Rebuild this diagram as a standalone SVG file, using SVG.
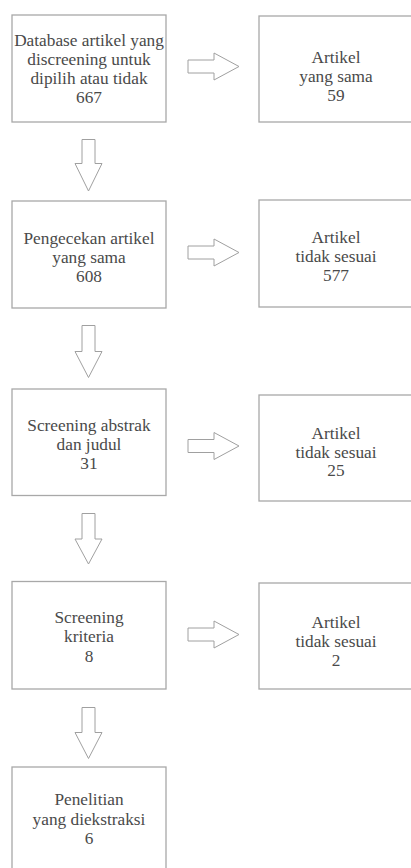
<svg xmlns="http://www.w3.org/2000/svg" width="411" height="868" viewBox="0 0 411 868">
<style>
.box{fill:#fff;stroke:#a8a8a8;stroke-width:1.3}
.arr{fill:#fff;stroke:#a0a0a0;stroke-width:1}
.t{font-family:'Liberation Serif','Times New Roman',serif;font-size:17.3px;fill:#4a4a4a;text-anchor:middle}
</style>
<rect width="411" height="868" fill="#fff"/>
<g id="connectors">
<polygon class="arr" points="188,60 214,60 214,53 239,66.5 214,80 214,73 188,73"/>
<polygon class="arr" points="188,246 214,246 214,239 239,252.5 214,266 214,259 188,259"/>
<polygon class="arr" points="188,439.5 214,439.5 214,432.5 239,446 214,459.5 214,452.5 188,452.5"/>
<polygon class="arr" points="188,628 214,628 214,621 239,634.5 214,648 214,641 188,641"/>
<polygon class="arr" points="82,139.5 95,139.5 95,163.5 102,163.5 88.5,191 75,163.5 82,163.5"/>
<polygon class="arr" points="82,325.5 95,325.5 95,351.5 102,351.5 88.5,377.5 75,351.5 82,351.5"/>
<polygon class="arr" points="82,513.5 95,513.5 95,539 102,539 88.5,564 75,539 82,539"/>
<polygon class="arr" points="82,707.5 95,707.5 95,732.5 102,732.5 88.5,758.5 75,732.5 82,732.5"/>
</g>
<g id="n1" class="t" font-family="Liberation Serif, serif">
<rect class="box" x="12" y="15" width="154" height="107"/>
<text x="89" y="45.5">Database artikel yang</text>
<text x="89" y="64.5">discreening untuk</text>
<text x="89" y="83.5">dipilih atau tidak</text>
<text x="89" y="102.5">667</text>
</g>
<g id="n2" class="t" font-family="Liberation Serif, serif">
<rect class="box" x="259" y="16" width="154" height="106"/>
<text x="336" y="62.5">Artikel</text>
<text x="336" y="81.5">yang sama</text>
<text x="336" y="100.5">59</text>
</g>
<g id="n3" class="t" font-family="Liberation Serif, serif">
<rect class="box" x="12" y="201" width="154" height="107"/>
<text x="89" y="243.5">Pengecekan artikel</text>
<text x="89" y="262.5">yang sama</text>
<text x="89" y="281.5">608</text>
</g>
<g id="n4" class="t" font-family="Liberation Serif, serif">
<rect class="box" x="259" y="200" width="154" height="107"/>
<text x="336" y="242.5">Artikel</text>
<text x="336" y="261.5">tidak sesuai</text>
<text x="336" y="280.5">577</text>
</g>
<g id="n5" class="t" font-family="Liberation Serif, serif">
<rect class="box" x="12" y="389" width="154" height="106.5"/>
<text x="89" y="430.5">Screening abstrak</text>
<text x="89" y="449.5">dan judul</text>
<text x="89" y="468.5">31</text>
</g>
<g id="n6" class="t" font-family="Liberation Serif, serif">
<rect class="box" x="259" y="395" width="154" height="106"/>
<text x="336" y="439">Artikel</text>
<text x="336" y="457.5">tidak sesuai</text>
<text x="336" y="476">25</text>
</g>
<g id="n7" class="t" font-family="Liberation Serif, serif">
<rect class="box" x="12" y="581.5" width="154" height="107.5"/>
<text x="89" y="623">Screening</text>
<text x="89" y="642">kriteria</text>
<text x="89" y="661.5">8</text>
</g>
<g id="n8" class="t" font-family="Liberation Serif, serif">
<rect class="box" x="259" y="583" width="154" height="106"/>
<text x="336" y="628">Artikel</text>
<text x="336" y="647">tidak sesuai</text>
<text x="336" y="666">2</text>
</g>
<g id="n9" class="t" font-family="Liberation Serif, serif">
<rect class="box" x="12" y="767" width="154" height="110"/>
<text x="89" y="805">Penelitian</text>
<text x="89" y="824.5">yang diekstraksi</text>
<text x="89" y="844">6</text>
</g>
</svg>
